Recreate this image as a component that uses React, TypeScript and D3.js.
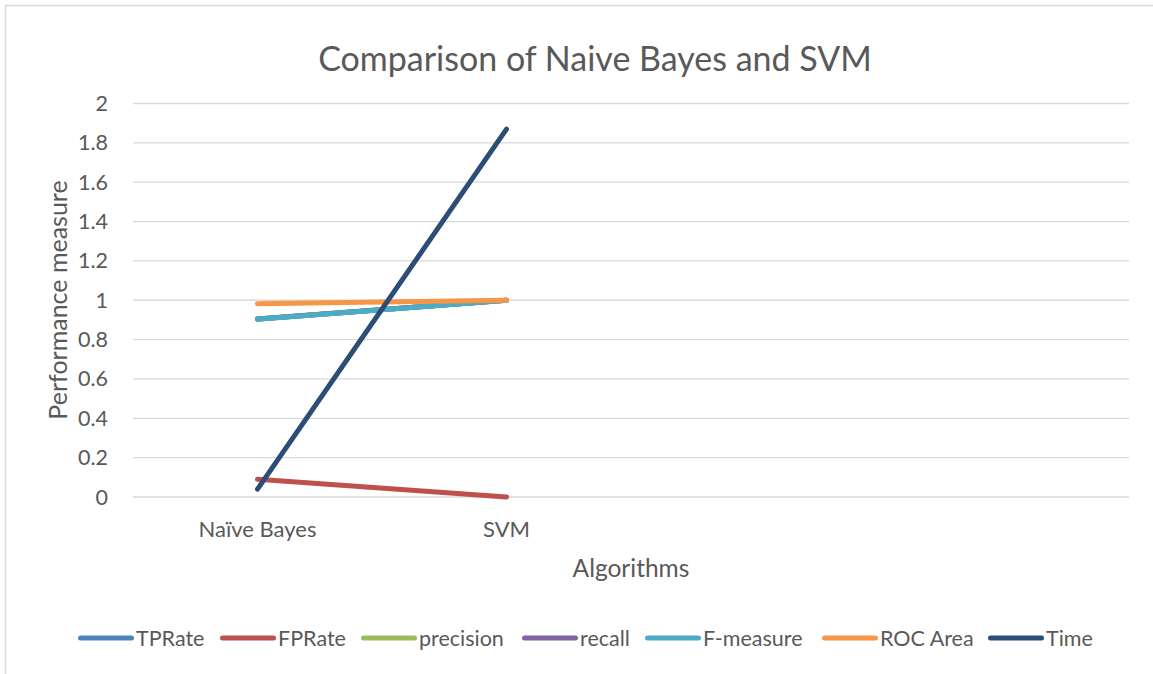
import { useEffect } from "react";
import * as d3 from "d3";

// categories (Excel left two empty slots on the axis)
const categories = ["Naïve Bayes", "SVM", "", ""];
const yTicks = [0, 0.2, 0.4, 0.6, 0.8, 1, 1.2, 1.4, 1.6, 1.8, 2];

const tpRate = [0.905, 1];
const fpRate = [0.09, 0];
const precision = [0.905, 1];
const recall = [0.905, 1];
const fMeasure = [0.904, 1];
const rocArea = [0.982, 1];
const time = [0.04, 1.87];

const seriesNames = ["TPRate", "FPRate", "precision", "recall", "F-measure", "ROC Area", "Time"];
const seriesValues = [tpRate, fpRate, precision, recall, fMeasure, rocArea, time];
const seriesColors = ["#4f81bd", "#c0504d", "#9bbb59", "#8064a2", "#4bacc6", "#f79646", "#2c4d75"];

const W = 1153;
const H = 674;
const FONT = "Lato, 'Open Sans', sans-serif";
const TXT = "#595959";

export default function App() {
  useEffect(() => {
    document.body.style.margin = "0";
  }, []);

  const plot = { left: 133, right: 1129, top: 103.5, bottom: 497 };

  const x = d3
    .scaleBand<number>()
    .domain(d3.range(categories.length))
    .range([plot.left, plot.right]);
  const cx = (i: number) => (x(i) || 0) + x.bandwidth() / 2;

  const y = d3.scaleLinear().domain([0, 2]).range([plot.bottom, plot.top]);

  const line = d3
    .line<number>()
    .x((_d, i) => cx(i))
    .y((d) => y(d));

  // legend layout
  const legendStarts = [78, 220, 361, 522, 645, 822, 988];

  return (
    <svg width={W} height={H} style={{ display: "block", background: "#fff" }} fontFamily={FONT}>
      <rect x={5.5} y={5.5} width={W + 20} height={H + 20} fill="none" stroke="#d9d9d9" strokeWidth={1.5} />

      <text x={595} y={71} textAnchor="middle" fontSize={34} fill={TXT}>
        Comparison of Naive Bayes and SVM
      </text>

      {/* grid */}
      {yTicks.map((t) => (
        <g key={t}>
          <line x1={plot.left} x2={plot.right} y1={y(t)} y2={y(t)} stroke="#d9d9d9" strokeWidth={1.3} />
          <text x={108} y={y(t)} dy="0.35em" textAnchor="end" fontSize={21.5} fill={TXT}>
            {t}
          </text>
        </g>
      ))}

      {/* category labels */}
      {categories.map((c, i) => (
        <text key={i} x={cx(i)} y={537} textAnchor="middle" fontSize={22} fill={TXT}>
          {c}
        </text>
      ))}

      <text x={631} y={577} textAnchor="middle" fontSize={24.5} fill={TXT}>
        Algorithms
      </text>
      <text
        transform="translate(67,300) rotate(-90)"
        textAnchor="middle"
        fontSize={25}
        fill={TXT}
      >
        Performance measure
      </text>

      {/* series */}
      {seriesValues.map((vals, s) => (
        <path
          key={seriesNames[s]}
          d={line(vals) || ""}
          fill="none"
          stroke={seriesColors[s]}
          strokeWidth={5}
          strokeLinecap="round"
          strokeLinejoin="round"
        />
      ))}

      {/* legend */}
      {seriesNames.map((n, s) => (
        <g key={n} transform={`translate(${legendStarts[s]},638)`}>
          <line x1={2.5} x2={53.5} y1={0} y2={0} stroke={seriesColors[s]} strokeWidth={5} strokeLinecap="round" />
          <text x={58} y={0} dy="0.35em" fontSize={21.5} fill={TXT}>
            {n}
          </text>
        </g>
      ))}
    </svg>
  );
}
